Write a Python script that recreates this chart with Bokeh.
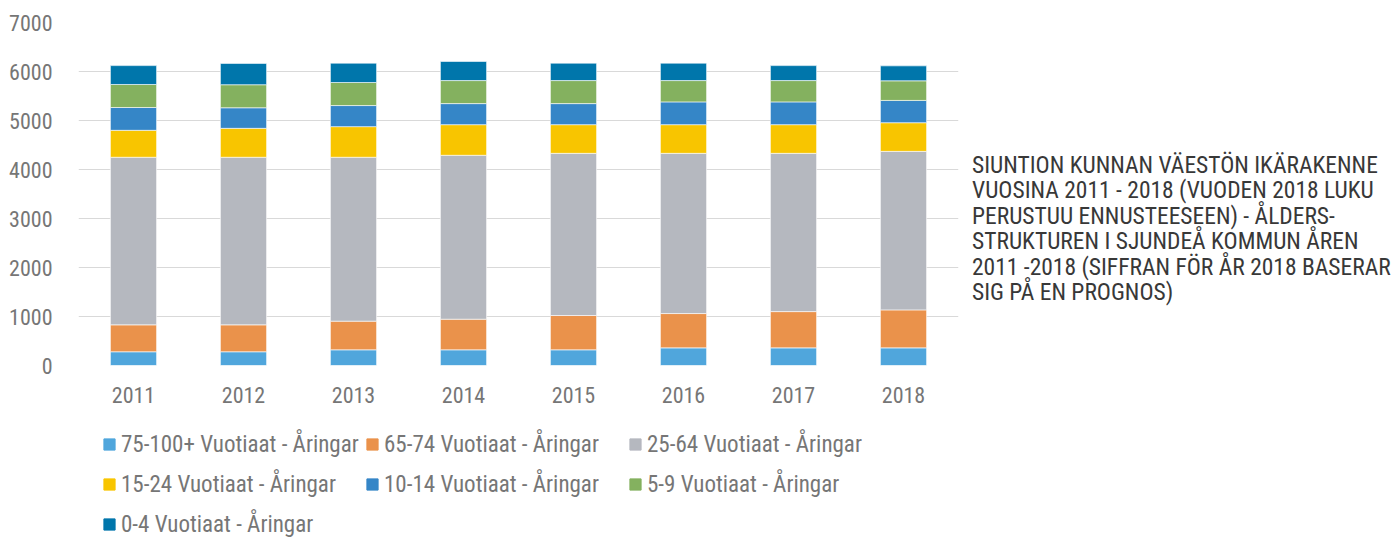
from bokeh.plotting import figure
from bokeh.models import Legend, LegendItem, Div, FactorRange, SingleIntervalTicker
from bokeh.layouts import row, column
from bokeh.embed import file_html
from bokeh.resources import INLINE

years = ["2011", "2012", "2013", "2014", "2015", "2016", "2017", "2018"]
age_75 = [280, 280, 320, 320, 320, 360, 360, 360]
age_65 = [550, 550, 585, 625, 700, 700, 740, 775]
age_25 = [3420, 3420, 3345, 3345, 3310, 3270, 3230, 3235]
age_15 = [550, 590, 625, 625, 585, 585, 585, 585]
age_10 = [465, 420, 430, 430, 430, 465, 465, 455]
age_5 = [470, 470, 470, 470, 470, 435, 435, 400]
age_0 = [385, 435, 395, 390, 355, 355, 305, 305]

series_names = [
    "75-100+ Vuotiaat - Åringar",
    "65-74 Vuotiaat - Åringar",
    "25-64 Vuotiaat - Åringar",
    "15-24 Vuotiaat - Åringar",
    "10-14 Vuotiaat - Åringar",
    "5-9 Vuotiaat - Åringar",
    "0-4 Vuotiaat - Åringar",
]
colors = ["#50a6dc", "#ea924b", "#b5b8bf", "#f8c500", "#3586c7", "#84b15f", "#0076ab"]

title_lines = [
    "SIUNTION KUNNAN VÄESTÖN IKÄRAKENNE",
    "VUOSINA 2011 - 2018 (VUODEN 2018 LUKU",
    "PERUSTUU ENNUSTEESEEN) - ÅLDERS-",
    "STRUKTUREN I SJUNDEÅ KOMMUN ÅREN",
    "2011 -2018 (SIFFRAN FÖR ÅR 2018 BASERAR",
    "SIG PÅ EN PROGNOS)",
]

FONT = "'Roboto Condensed', 'Liberation Sans Narrow', 'DejaVu Sans Condensed', 'Noto Sans', sans-serif"
GREY = "#767676"

keys = ["a75", "a65", "a25", "a15", "a10", "a5", "a0"]
data = dict(x=years, a75=age_75, a65=age_65, a25=age_25, a15=age_15,
            a10=age_10, a5=age_5, a0=age_0)

# ---- main chart ----
p = figure(x_range=FactorRange(*years, range_padding=0), y_range=(0, 7000),
           width=964, height=410, output_backend="svg", toolbar_location=None,
           min_border_left=78, min_border_right=6, min_border_top=22,
           min_border_bottom=45)

renderers = p.vbar_stack(keys, x="x", width=0.42, source=data, color=colors,
                         line_color="white", line_width=0.6)

p.outline_line_color = None
p.xgrid.grid_line_color = None
p.ygrid.grid_line_color = "#d9d9d9"
p.ygrid.grid_line_width = 1
p.yaxis.ticker = SingleIntervalTicker(interval=1000)

for ax in (p.xaxis[0], p.yaxis[0]):
    ax.axis_line_color = None
    ax.major_tick_line_color = None
    ax.minor_tick_line_color = None
    ax.major_tick_out = 0
    ax.major_tick_in = 0
    ax.major_label_text_font = FONT
    ax.major_label_text_font_size = "22px"
    ax.major_label_text_color = GREY
p.yaxis.major_label_standoff = 22
p.xaxis.major_label_standoff = 21

# ---- legend strip below the chart ----
lg = figure(x_range=(0, 1), y_range=(0, 1), width=1397, height=130,
            output_backend="svg", toolbar_location=None,
            x_axis_type=None, y_axis_type=None,
            min_border_left=0, min_border_right=0, min_border_top=0,
            min_border_bottom=0)
lg.outline_line_color = None
lg.xgrid.grid_line_color = None
lg.ygrid.grid_line_color = None
# swatch renderers (their single bar lies outside the visible range)
swatches = [lg.vbar(x=[5], bottom=[5], top=[6], width=0.5, color=c) for c in colors]

items = [LegendItem(label=n, renderers=[r]) for n, r in zip(series_names, swatches)]
legend = Legend(items=items, location=(102, 6), orientation="horizontal", ncols=3,
                label_text_font=FONT, label_text_font_size="23px",
                label_text_color=GREY, glyph_width=14, glyph_height=14,
                label_standoff=5, label_width=244, label_height=40, spacing=0,
                padding=0, margin=0, border_line_color=None,
                background_fill_alpha=0)
lg.add_layout(legend, "center")

# ---- title block at the right ----
title_html = (
    "<div style=\"padding-top:148px;padding-left:3px;white-space:nowrap;"
    "font-family:" + FONT + ";font-size:23.5px;line-height:25.4px;"
    "color:#383838;\">" + "<br>".join(title_lines) + "</div>"
)
title_div = Div(text=title_html, width=433, height=410)

layout = column(row(p, title_div, spacing=0), lg, spacing=0)
open("out.html", "w").write(file_html(layout, INLINE))
